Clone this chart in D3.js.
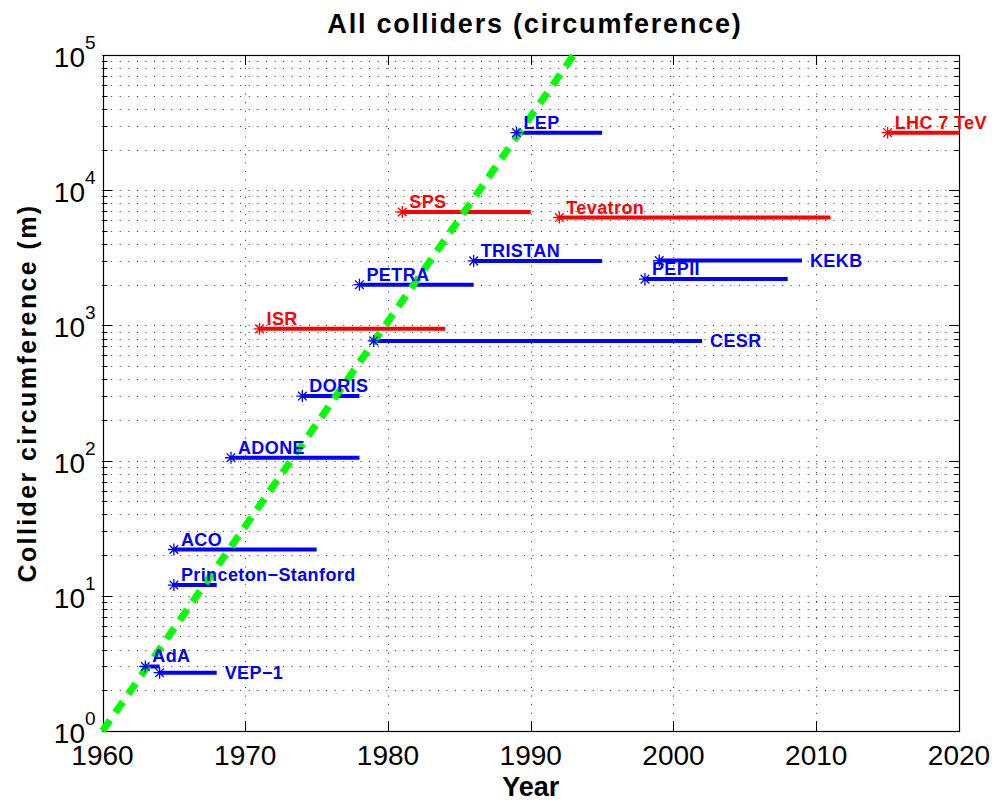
<!DOCTYPE html>
<html>
<head>
<meta charset="utf-8">
<script src="https://cdn.jsdelivr.net/npm/d3@7"></script>
<style>
  body { margin: 0; background: #fff; }
  svg text { font-family: "Liberation Sans", Arial, Helvetica, sans-serif; }
</style>
</head>
<body>
<svg class="chart"></svg>
<script>
// collider data
var names = ["AdA", "VEP\u22121", "Princeton\u2212Stanford", "ACO", "ADONE", "DORIS", "ISR", "CESR",
             "PETRA", "SPS", "TRISTAN", "LEP", "Tevatron", "PEPII", "KEKB", "LHC 7 TeV"];
var startYears = [1963, 1964, 1965, 1965, 1969, 1974, 1971, 1979, 1978, 1981, 1986, 1989, 1992, 1998, 1999, 2015];
var endYears   = [1964, 1968, 1968, 1975, 1978, 1978, 1984, 2002, 1986, 1990, 1995, 1995, 2011, 2008, 2009, 2020];
var circumference = [3, 2.7, 12, 22, 105, 300, 943, 768, 2000, 6900, 3000, 26659, 6280, 2200, 3016, 26659];
var beams = ["ee", "ee", "ee", "ee", "ee", "ee", "pp", "ee", "ee", "pp", "ee", "ee", "pp", "ee", "ee", "pp"];
var labelAtEnd = ["VEP\u22121", "CESR", "KEKB"];

var trendYears = [1960, 1993];
var trendValues = [1, 1e5];

var xTicks = [1960, 1970, 1980, 1990, 2000, 2010, 2020];
var yExponents = [0, 1, 2, 3, 4, 5];

function show() {
    'use strict';

    var W = 997, H = 805;
    var margin = {top: 55, bottom: 74, left: 102.5, right: 38};

    var svg = d3.select(".chart").attr("width", W).attr("height", H);

    var x = d3.scaleLinear().domain([1960, 2020]).range([margin.left, W - margin.right]);
    var y = d3.scaleLog().domain([1, 1e5]).range([H - margin.bottom, margin.top]);
    var color = d3.scaleOrdinal().domain(["ee", "pp"]).range(["#0000ff", "#ff0000"]);

    var x0 = x.range()[0], x1 = x.range()[1], y0 = y.range()[0], y1 = y.range()[1];

    // grid (dotted)
    var minor = [];
    yExponents.forEach(function(e) {
        for (var k = 1; k < 10; k++) {
            var v = k * Math.pow(10, e);
            if (v <= 1e5) minor.push(v);
        }
    });
    var grid = svg.append("g").attr("class", "grid")
        .attr("stroke", "#333").attr("stroke-width", 1).attr("stroke-dasharray", "1,7.6");
    grid.selectAll("line.h").data(minor).enter().append("line")
        .attr("x1", x0).attr("x2", x1)
        .attr("y1", function(d) { return Math.round(y(d)) + 0.5; })
        .attr("y2", function(d) { return Math.round(y(d)) + 0.5; });
    grid.selectAll("line.v").data(xTicks.slice(1, -1)).enter().append("line")
        .attr("y1", y0).attr("y2", y1)
        .attr("x1", function(d) { return Math.round(x(d)) + 0.5; })
        .attr("x2", function(d) { return Math.round(x(d)) + 0.5; });

    // ticks inside the box
    var ticks = svg.append("g").attr("stroke", "#000").attr("stroke-width", 1);
    xTicks.forEach(function(d) {
        var px = Math.round(x(d)) + 0.5;
        ticks.append("line").attr("x1", px).attr("x2", px).attr("y1", y0).attr("y2", y0 - 10);
        ticks.append("line").attr("x1", px).attr("x2", px).attr("y1", y1).attr("y2", y1 + 10);
    });
    minor.forEach(function(v) {
        var py = Math.round(y(v)) + 0.5;
        var major = Math.abs(Math.log10(v) - Math.round(Math.log10(v))) < 1e-9;
        var len = major ? 10 : 5;
        ticks.append("line").attr("x1", x0).attr("x2", x0 + len).attr("y1", py).attr("y2", py);
        ticks.append("line").attr("x1", x1).attr("x2", x1 - len).attr("y1", py).attr("y2", py);
    });

    // frame
    svg.append("rect")
        .attr("x", Math.round(x0) + 0.5).attr("y", Math.round(y1) + 0.5)
        .attr("width", Math.round(x1) - Math.round(x0)).attr("height", Math.round(y0) - Math.round(y1))
        .attr("fill", "none").attr("stroke", "#000").attr("stroke-width", 1.2);

    // tick labels
    svg.append("g").selectAll("text").data(xTicks).enter().append("text")
        .attr("x", function(d) { return x(d); })
        .attr("y", y0 + 34)
        .attr("text-anchor", "middle")
        .attr("font-size", 28)
        .text(function(d) { return d; });

    var yl = svg.append("g").selectAll("g").data(yExponents).enter().append("g")
        .attr("transform", function(d) { return "translate(0," + y(Math.pow(10, d)) + ")"; });
    yl.append("text").attr("x", 85).attr("y", 12).attr("text-anchor", "end")
        .attr("font-size", 28).text("10");
    yl.append("text").attr("x", 85).attr("y", -6).attr("text-anchor", "start")
        .attr("font-size", 19).text(function(d) { return d; });

    // bars
    var idx = d3.range(names.length);
    svg.append("g").selectAll("line").data(idx).enter().append("line")
        .attr("x1", function(i) { return x(startYears[i]); })
        .attr("x2", function(i) { return x(endYears[i]); })
        .attr("y1", function(i) { return y(circumference[i]); })
        .attr("y2", function(i) { return y(circumference[i]); })
        .attr("stroke", function(i) { return color(beams[i]); })
        .attr("stroke-width", 4);

    // trend line
    var line = d3.line()
        .x(function(d, i) { return x(trendYears[i]); })
        .y(function(d) { return y(d); });
    svg.append("path")
        .datum(trendValues)
        .attr("d", line)
        .attr("fill", "none")
        .attr("stroke", "#00ff00")
        .attr("stroke-width", 7)
        .attr("stroke-dasharray", "13,9.5");

    // asterisk markers
    function asterisk(r) {
        var p = d3.path(), d = r * 0.72;
        p.moveTo(-r, 0); p.lineTo(r, 0);
        p.moveTo(0, -r); p.lineTo(0, r);
        p.moveTo(-d, -d); p.lineTo(d, d);
        p.moveTo(-d, d); p.lineTo(d, -d);
        return p.toString();
    }
    svg.append("g").selectAll("path").data(idx).enter().append("path")
        .attr("transform", function(i) { return "translate(" + x(startYears[i]) + "," + y(circumference[i]) + ")"; })
        .attr("d", asterisk(6))
        .attr("fill", "none")
        .attr("stroke", function(i) { return color(beams[i]); })
        .attr("stroke-width", 1.3);

    // collider labels
    svg.append("g").selectAll("text").data(idx).enter().append("text")
        .attr("x", function(i) {
            return labelAtEnd.indexOf(names[i]) >= 0 ? x(endYears[i]) + 8 : x(startYears[i]) + 7;
        })
        .attr("y", function(i) {
            return labelAtEnd.indexOf(names[i]) >= 0 ? y(circumference[i]) + 6.5 : y(circumference[i]) - 4;
        })
        .attr("font-size", 18)
        .attr("font-weight", "bold")
        .attr("letter-spacing", 0.4)
        .attr("fill", function(i) { return color(beams[i]); })
        .text(function(i) { return names[i]; });

    // title and axis labels
    svg.append("text")
        .attr("x", 535).attr("y", 33)
        .attr("text-anchor", "middle")
        .attr("font-size", 27).attr("font-weight", "bold")
        .attr("letter-spacing", 1.8)
        .text("All colliders (circumference)");

    svg.append("text")
        .attr("x", (x0 + x1) / 2).attr("y", 796)
        .attr("text-anchor", "middle")
        .attr("font-size", 27).attr("font-weight", "bold")
        .text("Year");

    svg.append("text")
        .attr("transform", "translate(36," + ((y0 + y1) / 2) + ") rotate(-90)")
        .attr("text-anchor", "middle")
        .attr("font-size", 25).attr("font-weight", "bold")
        .attr("letter-spacing", 2.4)
        .text("Collider circumference (m)");
}

show();
</script>
</body>
</html>
